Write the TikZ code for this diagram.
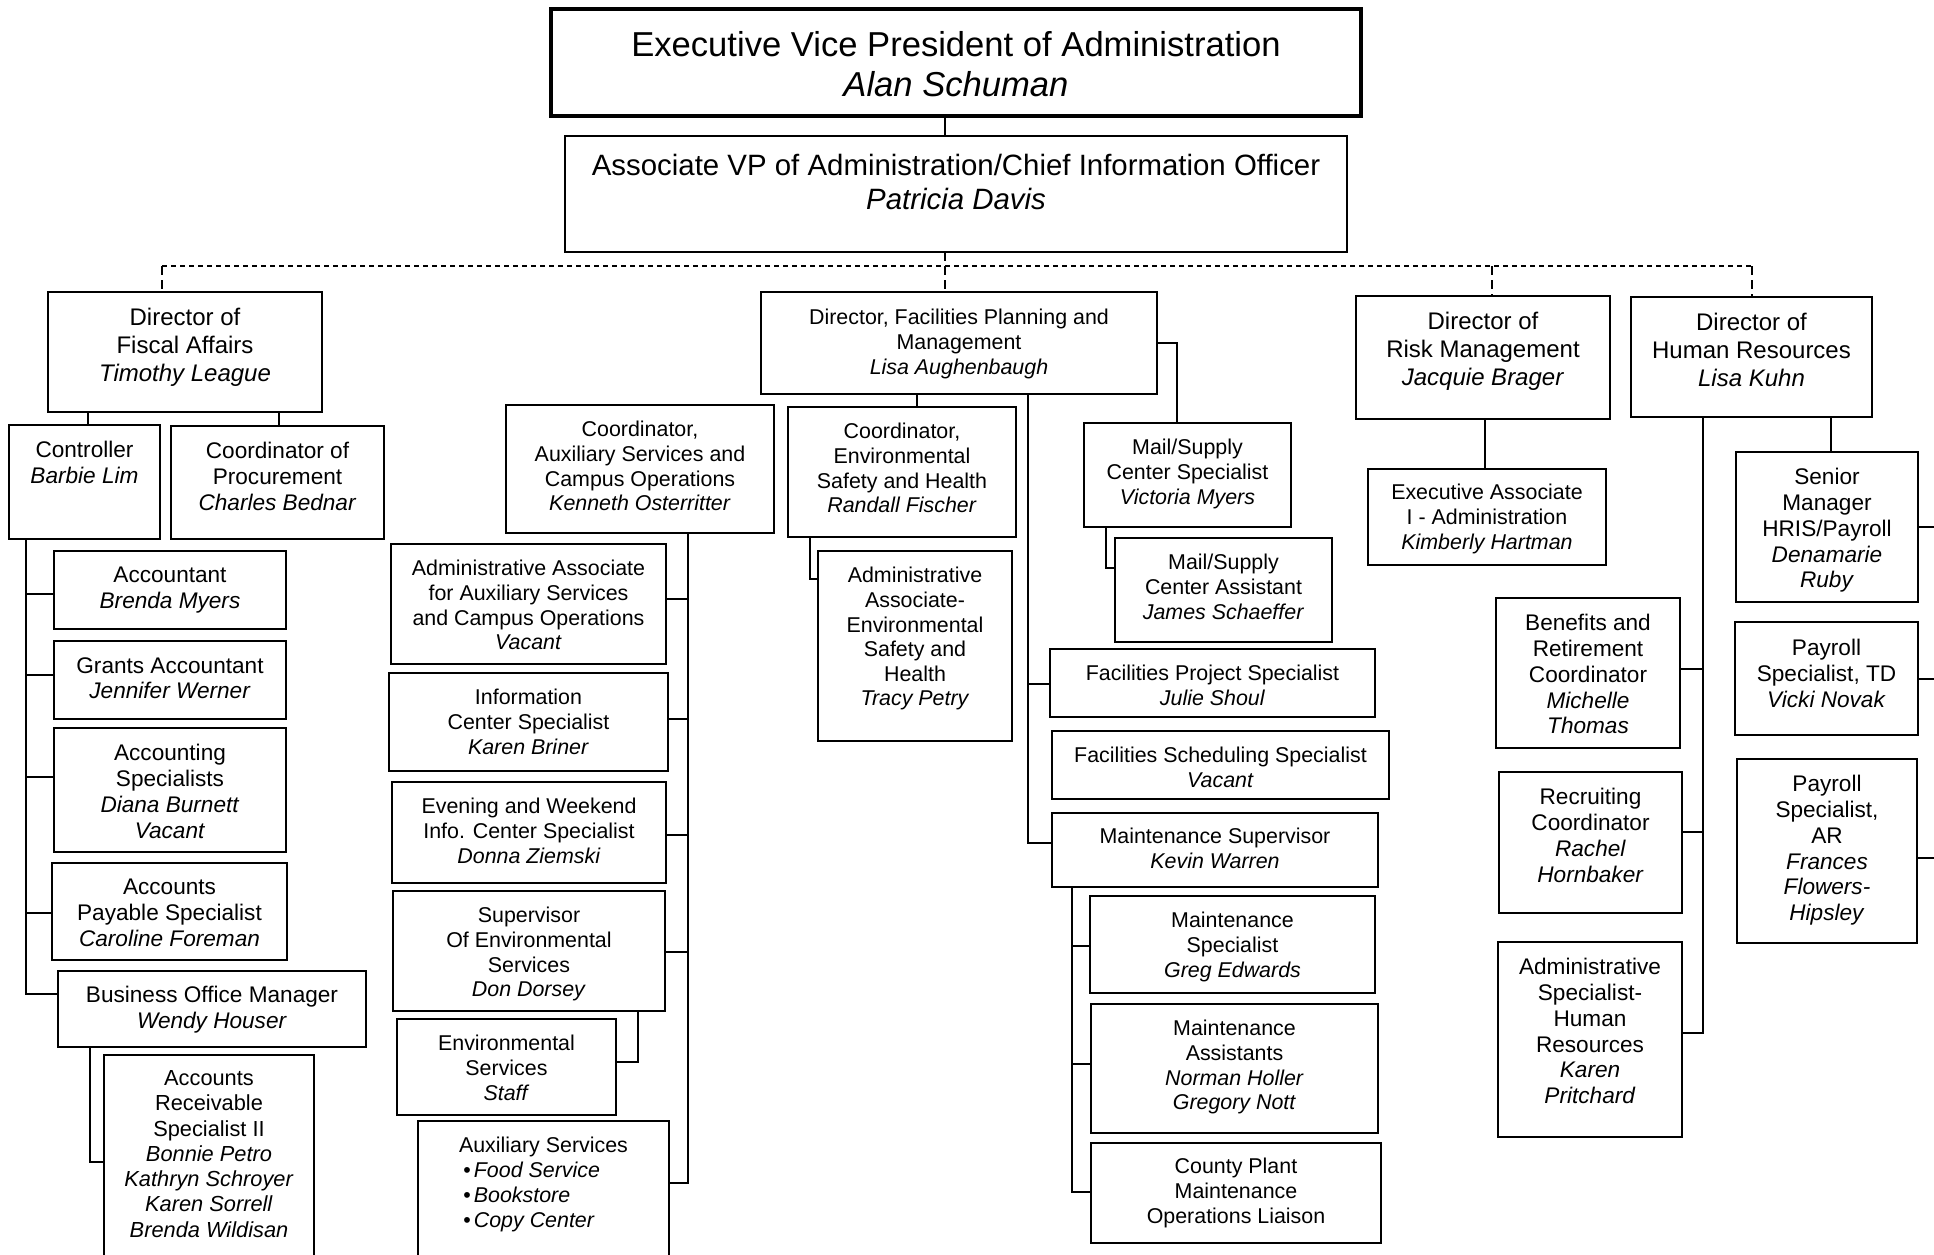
\documentclass[tikz,border=0pt]{standalone}
\usepackage{fontspec}
\setmainfont{Liberation Sans}

\newcommand{\boxfont}{\fontsize{10.7pt}{12.3pt}\selectfont}
\newcommand{\sidefont}{\fontsize{11.3pt}{12.9pt}\selectfont}
\newcommand{\dirfont}{\fontsize{12pt}{13.9pt}\selectfont}
\newcommand{\evpfont}{\fontsize{17.3pt}{20pt}\selectfont}
\newcommand{\avpfont}{\fontsize{14.7pt}{17pt}\selectfont}
% #1 text style, #2 name, #3-#6 corners (px), #7 top of text (px), #8 text
\newcommand{\staffbox}[8][]{%
	\node[box, minimum width={(#5-#3)*0.5pt}, minimum height={(#6-#4)*0.5pt}]
	(#2) at ({(#3+#5)/2},{(#4+#6)/2}) {};
	\node[txt, #1] (#2-t) at ({(#3+#5)/2},#7) {#8};}

\begin{document}
\begin{tikzpicture}[x=0.5pt,y=-0.5pt,
	box/.style={draw, line width=1.1pt, inner sep=0pt, outer sep=0pt},
	txt/.style={anchor=north, align=center, inner sep=0pt, font=\boxfont},
	link/.style={line width=1pt},
	dotbus/.style={line width=1pt, dash pattern=on 2.5pt off 2pt},
	dashdrop/.style={line width=1pt, dash pattern=on 4.5pt off 2.5pt}]
\useasboundingbox (0,0) rectangle (1934,1254);
\clip (0,0) rectangle (1934,1254);
%========================================
% TOP: executive and associate VP
%========================================
\node[box, line width=1.75pt, minimum width=405pt, minimum height=53.5pt]
(evp) at (956,62.5) {};
\node[txt, font=\evpfont] (evp-t) at (956,31)
{Executive Vice President of Administration\\\textit{Alan Schuman}};
\staffbox[font=\avpfont]{avp}{565}{136}{1347}{252}{154}
{Associate VP of Administration/Chief Information Officer\\\textit{Patricia Davis}}

%========================================
% LEFT: fiscal affairs
%========================================
\staffbox[font=\dirfont]{fiscal}{48}{292}{322}{412}{308}
{Director of\\Fiscal Affairs\\\textit{Timothy League}}
\staffbox[font=\sidefont]{ctrl}{9}{425}{160}{539}{441}{Controller\\\textit{Barbie Lim}}
\staffbox[font=\sidefont]{proc}{171}{426}{384}{539}{442}
{Coordinator of\\Procurement\\\textit{Charles Bednar}}
\staffbox[font=\sidefont]{acct}{54}{551}{286}{629}{567}{Accountant\\\textit{Brenda Myers}}
\staffbox[font=\sidefont]{grants}{54}{641}{286}{719}{657}
{Grants Accountant\\\textit{Jennifer Werner}}
\staffbox[font=\sidefont]{acsp}{54}{728}{286}{852}{744}
{Accounting\\Specialists\\\textit{Diana Burnett}\\\textit{Vacant}}
\staffbox[font=\sidefont]{ap}{52}{863}{287}{960}{879}
{Accounts\\Payable Specialist\\\textit{Caroline Foreman}}
\staffbox[font=\sidefont]{bom}{58}{971}{366}{1047}{986}
{Business Office Manager\\\textit{Wendy Houser}}
\staffbox[font=\fontsize{10.9pt}{12.65pt}\selectfont]{ar}{104}{1055}{314}{1264}{1070}
{Accounts\\Receivable\\Specialist II\\\textit{Bonnie Petro}\\\textit{Kathryn Schroyer}\\
	\textit{Karen Sorrell}\\\textit{Brenda Wildisan}}

%========================================
% MIDDLE: auxiliary services
%========================================
\staffbox{caux}{506}{405}{774}{533}{421}
{Coordinator,\\Auxiliary Services and\\Campus Operations\\\textit{Kenneth Osterritter}}
\staffbox{aa}{391}{544}{666}{664}{560}
{Administrative Associate\\for Auxiliary Services\\and Campus Operations\\\textit{Vacant}}
\staffbox{info}{389}{673}{668}{771}{689}
{Information\\Center Specialist\\\textit{Karen Briner}}
\staffbox{eve}{392}{782}{666}{883}{798}
{Evening and Weekend\\Info. Center Specialist\\\textit{Donna Ziemski}}
\staffbox{supenv}{393}{891}{665}{1011}{907}
{Supervisor\\Of Environmental\\Services\\\textit{Don Dorsey}}
\staffbox{envst}{397}{1019}{616}{1115}{1035}{Environmental\\Services\\\textit{Staff}}
\staffbox{aux}{418}{1121}{669}{1264}{1137}{Auxiliary Services}
\node[txt, anchor=north west, align=left] (aux-l) at (463,1162)
{\textbullet\hspace{1.5pt}\textit{Food Service}\\\textbullet\hspace{1.5pt}\textit{Bookstore}\\
	\textbullet\hspace{1.5pt}\textit{Copy Center}};

%========================================
% MIDDLE: facilities planning
%========================================
\staffbox{fac}{761}{292}{1157}{394}{309}
{Director, Facilities Planning and\\Management\\\textit{Lisa Aughenbaugh}}
\staffbox{cenv}{788}{407}{1016}{537}{423}
{Coordinator,\\Environmental\\Safety and Health\\\textit{Randall Fischer}}
\staffbox{aaenv}{818}{551}{1012}{741}{567}
{Administrative\\Associate-\\Environmental\\Safety and\\Health\\\textit{Tracy Petry}}
\staffbox{mss}{1084}{423}{1291}{527}{439}
{Mail/Supply\\Center Specialist\\\textit{Victoria Myers}}
\staffbox{msa}{1115}{538}{1332}{642}{554}
{Mail/Supply\\Center Assistant\\\textit{James Schaeffer}}
\staffbox{fproj}{1050}{649}{1375}{717}{665}
{Facilities Project Specialist\\\textit{Julie Shoul}}
\staffbox{fsched}{1052}{731}{1389}{799}{747}
{Facilities Scheduling Specialist\\\textit{Vacant}}
\staffbox{msup}{1052}{813}{1378}{887}{828}
{Maintenance Supervisor\\\textit{Kevin Warren}}
\staffbox{mspec}{1090}{896}{1375}{993}{912}
{Maintenance\\Specialist\\\textit{Greg Edwards}}
\staffbox{masst}{1091}{1004}{1378}{1133}{1020}
{Maintenance\\Assistants\\\textit{Norman Holler}\\\textit{Gregory Nott}}
\staffbox{county}{1091}{1143}{1381}{1243}{1158}
{County Plant\\Maintenance\\Operations Liaison}

%========================================
% RIGHT: risk management, human resources
%========================================
\staffbox[font=\dirfont]{risk}{1356}{296}{1610}{419}{312}
{Director of\\Risk Management\\\textit{Jacquie Brager}}
\staffbox{ea}{1368}{469}{1606}{565}{484}
{Executive Associate\\I - Administration\\\textit{Kimberly Hartman}}
\staffbox[font=\dirfont]{hr}{1631}{297}{1872}{417}{313}
{Director of\\Human Resources\\\textit{Lisa Kuhn}}
\staffbox[font=\sidefont]{sm}{1736}{452}{1918}{602}{468}
{Senior\\Manager\\HRIS/Payroll\\\textit{Denamarie}\\\textit{Ruby}}
\staffbox[font=\sidefont]{ptd}{1735}{622}{1918}{735}{639}
{Payroll\\Specialist, TD\\\textit{Vicki Novak}}
\staffbox[font=\sidefont]{par}{1737}{759}{1917}{943}{775}
{Payroll\\Specialist,\\AR\\\textit{Frances}\\\textit{Flowers-}\\\textit{Hipsley}}
\staffbox[font=\sidefont]{ben}{1496}{598}{1680}{748}{614}
{Benefits and\\Retirement\\Coordinator\\\textit{Michelle}\\\textit{Thomas}}
\staffbox[font=\sidefont]{rec}{1499}{772}{1682}{913}{788}
{Recruiting\\Coordinator\\\textit{Rachel}\\\textit{Hornbaker}}
\staffbox[font=\sidefont]{ashr}{1498}{942}{1682}{1137}{958}
{Administrative\\Specialist-\\Human\\Resources\\\textit{Karen}\\\textit{Pritchard}}

%========================================
% CONNECTORS
%========================================
% top and dashed bus
\coordinate (trunk) at (945,266);
\coordinate (dropF) at (162,266);
\coordinate (dropR) at (1491.5,266);
\coordinate (dropH) at (1752,266);
\draw[link] (evp.south -| trunk) -- (avp.north -| trunk);
\draw[dashdrop] (avp.south -| trunk) -- (fac.north -| trunk);
\draw[dotbus] (dropF) -- (dropH);
\foreach \d/\n in {dropF/fiscal,dropR/risk,dropH/hr}
\draw[dashdrop] (\d) -- (\n.north -| \d);

% fiscal affairs
\coordinate (ctrlx) at (88,0);
\coordinate (procx) at (279,0);
\coordinate (fspine) at (26,0);
\coordinate (bomx) at (90,0);
\draw[link] (fiscal.south -| ctrlx) -- (ctrl.north -| ctrlx);
\draw[link] (fiscal.south -| procx) -- (proc.north -| procx);
\draw[link] (ctrl.south -| fspine) |- (bom.west |- 0,994);
\foreach \n/\yy in {acct/594,grants/675,acsp/777,ap/913}
\draw[link] (fspine |- 0,\yy) -- (\n.west |- 0,\yy);
\draw[link] (bom.south -| bomx) |- (ar.west |- 0,1162);

% auxiliary services
\coordinate (cauxx) at (688,0);
\coordinate (supx) at (638,0);
\draw[link] (caux.south -| cauxx) |- (aux.east |- 0,1183);
\foreach \n/\yy in {aa/599,info/719,eve/835,supenv/952}
\draw[link] (cauxx |- 0,\yy) -- (\n.east |- 0,\yy);
\draw[link] (supenv.south -| supx) |- (envst.east |- 0,1062);

% facilities planning
\coordinate (cenvx) at (917,0);
\coordinate (cenvdrop) at (810,0);
\coordinate (facspine) at (1028,0);
\coordinate (mailx) at (1177,0);
\coordinate (mssdrop) at (1106,0);
\coordinate (msupx) at (1071.5,0);
\draw[link] (fac.south -| cenvx) -- (cenv.north -| cenvx);
\draw[link] (cenv.south -| cenvdrop) |- (aaenv.west |- 0,579);
\draw[link] (fac.south -| facspine) |- (msup.west |- 0,843);
\draw[link] (facspine |- 0,684) -- (fproj.west |- 0,684);
\draw[link] (fac.east |- 0,343) -| (mss.north -| mailx);
\draw[link] (mss.south -| mssdrop) |- (msa.west |- 0,568);
\draw[link] (msup.south -| msupx) |- (county.west |- 0,1192);
\foreach \n/\yy in {mspec/946,masst/1064}
\draw[link] (msupx |- 0,\yy) -- (\n.west |- 0,\yy);

% risk management
\coordinate (riskx) at (1485,0);
\draw[link] (risk.south -| riskx) -- (ea.north -| riskx);

% human resources
\coordinate (hrspine) at (1703,0);
\coordinate (smx) at (1831,0);
\coordinate (edge) at (1934,0);
\draw[link] (hr.south -| hrspine) |- (ashr.east |- 0,1033);
\foreach \n/\yy in {ben/669,rec/832}
\draw[link] (hrspine |- 0,\yy) -- (\n.east |- 0,\yy);
\draw[link] (hr.south -| smx) -- (sm.north -| smx);
\foreach \n/\yy in {sm/527,ptd/679,par/858}
\draw[link] (\n.east |- 0,\yy) -- (edge |- 0,\yy);
\end{tikzpicture}
\end{document}
